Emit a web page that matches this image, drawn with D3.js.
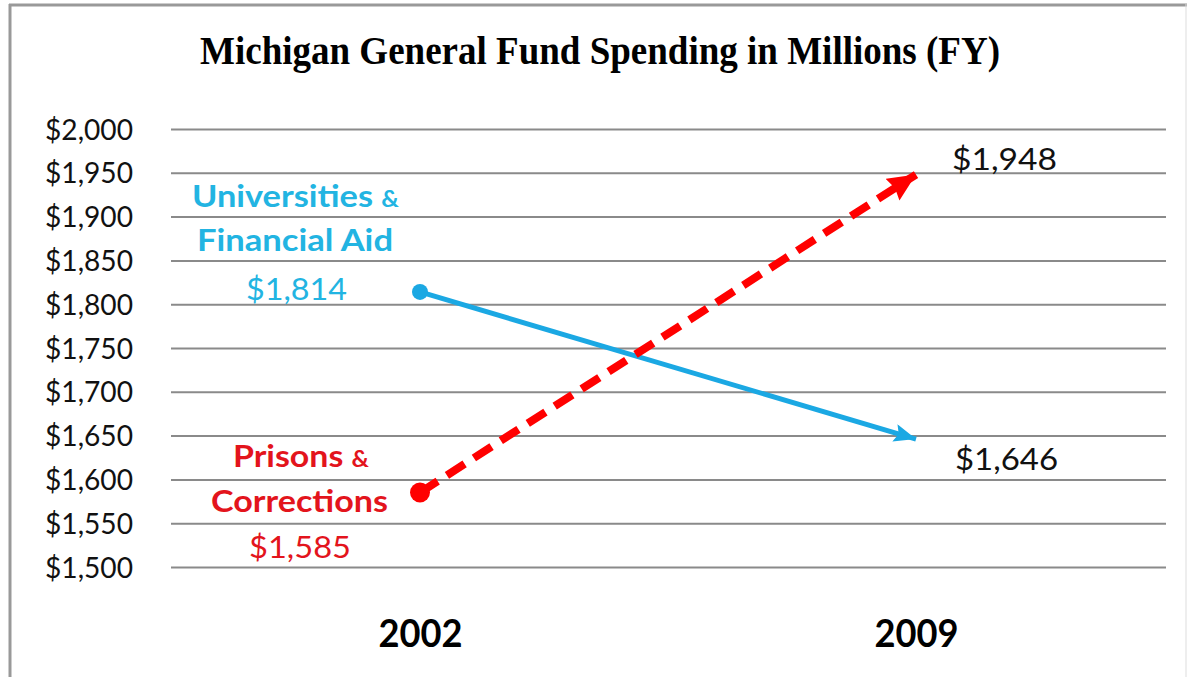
<!DOCTYPE html>
<html><head><meta charset="utf-8">
<script src="https://cdn.jsdelivr.net/npm/d3@7"></script>
<style>html,body{margin:0;padding:0;background:#fff;}svg{display:block;}</style>
</head><body>
<svg id="chart" width="1187" height="677"></svg>
<script>
const years = ["2002", "2009"];
const seriesNames = ["Universities & Financial Aid", "Prisons & Corrections"];
const universities = [1814, 1646];
const prisons = [1585, 1948];
const yTicks = [1500, 1550, 1600, 1650, 1700, 1750, 1800, 1850, 1900, 1950, 2000];
const title = "Michigan General Fund Spending in Millions (FY)";

const svg = d3.select("#chart");
const W = 1187, H = 677;
svg.append("rect").attr("width", W).attr("height", H).attr("fill", "#fff");
// frame
svg.append("line").attr("x1", 9).attr("x2", W).attr("y1", 5).attr("y2", 5).attr("stroke", "#999").attr("stroke-width", 3);
svg.append("line").attr("x1", 10).attr("x2", 10).attr("y1", 4).attr("y2", H).attr("stroke", "#999").attr("stroke-width", 3);
svg.append("line").attr("x1", 1186).attr("x2", 1186).attr("y1", 4).attr("y2", H).attr("stroke", "#ddd").attr("stroke-width", 1);

const x = d3.scalePoint().domain(years).range([420, 916]);
const y = d3.scaleLinear().domain([1500, 2000]).range([567, 129]);
const gridX0 = 171, gridX1 = 1166;

// title
svg.append("text").attr("x", 600).attr("y", 64).attr("text-anchor", "middle")
  .attr("font-family", "Liberation Serif, Times New Roman, serif").attr("font-weight", "bold")
  .attr("font-size", 40).attr("textLength", 800).attr("lengthAdjust", "spacingAndGlyphs")
  .attr("fill", "#000").text(title);

const lab = "Lato, Carlito, Calibri, sans-serif";

// gridlines + y axis via d3 axis
const yAxis = d3.axisLeft(y).tickValues(yTicks).tickSize(-(gridX1 - gridX0)).tickPadding(38)
  .tickFormat(d => "$" + d3.format(",")(d));
const gy = svg.append("g").attr("transform", `translate(${gridX0},0)`).call(yAxis);
gy.select(".domain").remove();
gy.selectAll(".tick line").attr("stroke", "#8a8a8a").attr("stroke-width", 2);
gy.selectAll(".tick text").attr("font-family", lab).attr("font-size", 28)
  .attr("fill", "#111").attr("dy", "0.36em").attr("textLength", 88).attr("lengthAdjust", "spacingAndGlyphs");

// x axis labels
const xAxis = d3.axisBottom(x).tickSize(0).tickPadding(0);
const gx = svg.append("g").attr("transform", `translate(0,620)`).call(xAxis);
gx.select(".domain").remove();
gx.selectAll(".tick text").attr("font-family", lab).attr("font-weight", "bold")
  .attr("font-size", 38).attr("fill", "#000").attr("dy", "0.71em")
  .attr("textLength", 84).attr("lengthAdjust", "spacingAndGlyphs");

// markers
const defs = svg.append("defs");
defs.append("marker").attr("id", "arrBlue").attr("markerUnits", "userSpaceOnUse")
  .attr("viewBox", "0 0 22 18").attr("refX", 22).attr("refY", 9)
  .attr("markerWidth", 22).attr("markerHeight", 18).attr("orient", "auto")
  .append("path").attr("d", "M0,0 L22,9 L0,18 L4,9 Z").attr("fill", "#1BA8E3");
defs.append("marker").attr("id", "arrRed").attr("markerUnits", "userSpaceOnUse")
  .attr("viewBox", "0 0 28 26").attr("refX", 28).attr("refY", 13)
  .attr("markerWidth", 28).attr("markerHeight", 26).attr("orient", "auto")
  .append("path").attr("d", "M0,0 L28,13 L0,26 L3,13 Z").attr("fill", "#FF0000");

const line = d3.line().x((d, i) => x(years[i])).y(d => y(d));

// universities line
svg.append("path").datum(universities).attr("d", line).attr("fill", "none")
  .attr("stroke", "#1BA8E3").attr("stroke-width", 5).attr("marker-end", "url(#arrBlue)");
svg.append("circle").attr("cx", x(years[0])).attr("cy", y(universities[0])).attr("r", 8).attr("fill", "#1BA8E3");

// prisons line
svg.append("path").datum(prisons).attr("d", line).attr("fill", "none")
  .attr("stroke", "#FF0000").attr("stroke-width", 8).attr("stroke-dasharray", "21,11")
  .attr("marker-end", "url(#arrRed)");
svg.append("circle").attr("cx", x(years[0])).attr("cy", y(prisons[0])).attr("r", 10).attr("fill", "#FF0000");

const fmt = d => "$" + d3.format(",")(d);
const cyan = "#22B4E2", red = "#E3141C";

function addLabel(x0, yBase, parts, color, bold, size, len) {
  const t = svg.append("text").attr("x", x0).attr("y", yBase).attr("text-anchor", "start")
    .attr("font-family", lab).attr("fill", color).attr("font-weight", bold ? "bold" : "normal")
    .attr("font-size", size).attr("textLength", len).attr("lengthAdjust", "spacingAndGlyphs");
  parts.forEach(p => {
    const ts = t.append("tspan").text(p.t);
    if (p.s) ts.attr("font-size", p.s);
  });
  return t;
}

// universities labels
addLabel(192, 207, [{t: "Universities "}, {t: "&", s: 22}], cyan, true, 31, 207);
addLabel(197, 251, [{t: "Financial Aid"}], cyan, true, 31, 196);
addLabel(246, 300, [{t: fmt(universities[0])}], cyan, false, 31, 101);

// prisons labels
addLabel(233, 467, [{t: "Prisons "}, {t: "&", s: 22}], red, true, 31, 136);
addLabel(211, 512, [{t: "Corrections"}], red, true, 31, 177);
addLabel(249, 558, [{t: fmt(prisons[0])}], red, false, 31, 102);

// end labels
addLabel(952, 170, [{t: fmt(prisons[1])}], "#111", false, 31, 105);
addLabel(955, 470, [{t: fmt(universities[1])}], "#111", false, 31, 103);
</script>
</body></html>
